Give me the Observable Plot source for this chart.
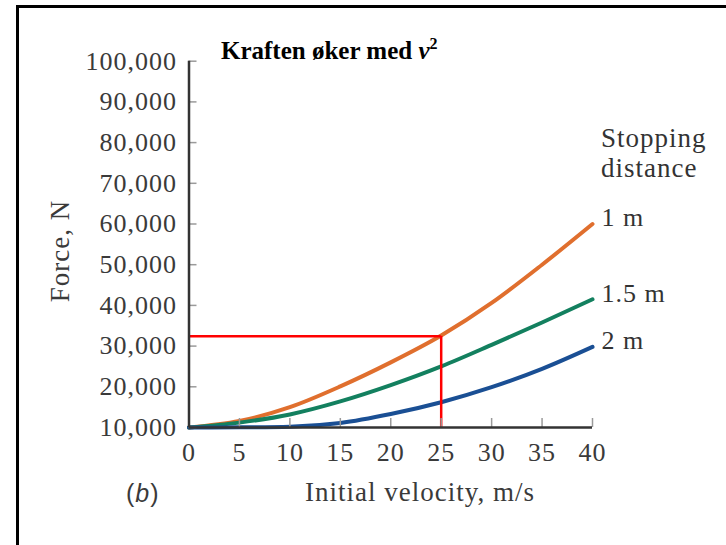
<!DOCTYPE html>
<html>
<head>
<meta charset="utf-8">
<script src="https://cdn.jsdelivr.net/npm/d3@7"></script>
<script src="https://cdn.jsdelivr.net/npm/@observablehq/plot@0.6"></script>
<style>
  html, body { margin: 0; padding: 0; background: #fff; }
  #wrap { position: relative; width: 726px; height: 545px; overflow: hidden; }
  #frame { position: absolute; left: 16px; top: 5px; width: 800px; height: 700px; border: 3px solid #000; box-sizing: border-box; pointer-events: none; }
  #chart svg text { letter-spacing: 1px; }
  #chart svg text.title { letter-spacing: 0; }
</style>
</head>
<body>
<div id="wrap"><div id="chart"></div><div id="frame"></div></div>
<script>
// ---- data ----
const velocity = [0, 5, 10, 15, 20, 25, 30, 35, 40];               // m/s
const force1m   = [10000, 11600, 15000, 20100, 26000, 32600, 40600, 50000, 60000];
const force15m  = [10000, 11200, 13200, 16400, 20400, 25000, 30300, 35800, 41500];
const force2m   = [10000, 10050, 10200, 11100, 13300, 16200, 19900, 24400, 29800];
const seriesNames  = ["1 m", "1.5 m", "2 m"];
const seriesColors = ["#e06f2e", "#13805f", "#1a4f94"];
const xTicks = [0, 5, 10, 15, 20, 25, 30, 35, 40];
const yTicks = [10000, 20000, 30000, 40000, 50000, 60000, 70000, 80000, 90000, 100000];
const readVelocity = [25];
const readForce = [32400];

// ---- tables built from the arrays ----
const seriesValues = [force1m, force15m, force2m];
const rows = seriesNames.flatMap((s, i) => velocity.map((v, j) => ({v, F: seriesValues[i][j], s})));
const ends = seriesNames.map((s, i) => ({v: velocity[velocity.length - 1], F: seriesValues[i][velocity.length - 1], s}));
const readings = readVelocity.map((v, i) => ({v, F: readForce[i]}));

const fmt = d3.format(",");
const serif = "'Liberation Serif', 'Times New Roman', serif";

const plot = Plot.plot({
  width: 726,
  height: 545,
  marginLeft: 188.5,
  marginRight: 134,
  marginTop: 60.7,
  marginBottom: 118,
  style: {fontFamily: serif, fontSize: "26px", background: "transparent", color: "#333"},
  x: {domain: [0, 40]},
  y: {domain: [10000, 100000]},
  color: {domain: seriesNames, range: seriesColors},
  marks: [
    Plot.line(rows, {x: "v", y: "F", z: "s", stroke: "s", strokeWidth: 4, curve: "monotone-x"}),
    Plot.ruleY(readings, {y: "F", x1: 0, x2: "v", stroke: "#ff0000", strokeWidth: 2.5}),
    Plot.ruleX(readings, {x: "v", y1: 10000, y2: "F", stroke: "#ff0000", strokeWidth: 2.5}),
    Plot.axisY({ticks: yTicks, tickFormat: fmt, tickSize: -8, tickPadding: 20, label: null,
      stroke: "#9a9a9a", strokeWidth: 1.5, fill: "#3a3a3a", fontSize: 26}),
    Plot.axisX({ticks: xTicks, tickFormat: d => String(d), tickSize: -9, tickPadding: 24, label: null,
      stroke: "#9a9a9a", strokeWidth: 1.5, fill: "#3a3a3a", fontSize: 26}),
    Plot.ruleX([0], {stroke: "#333", strokeWidth: 2.5}),
    Plot.ruleY([10000], {stroke: "#333", strokeWidth: 2.5}),
    Plot.text(ends, {x: "v", y: "F", text: "s", textAnchor: "start", dx: 9, dy: -6, fontSize: 26, fill: "#333"})
  ]
});
document.getElementById("chart").appendChild(plot);

const svg = d3.select(plot);
// title
const t = svg.append("text").attr("class", "title")
  .attr("x", 221).attr("y", 59).attr("text-anchor", "start")
  .attr("font-family", serif).attr("font-weight", "bold").attr("font-size", 25).attr("fill", "#000");
t.append("tspan").text("Kraften øker med ");
t.append("tspan").attr("font-style", "italic").text("v");
t.append("tspan").attr("font-size", 16).attr("dy", -10).text("2");
// legend heading
const h = svg.append("text").attr("text-anchor", "start").attr("font-family", serif).attr("font-size", 27).attr("fill", "#333");
h.append("tspan").attr("x", 601).attr("y", 146.5).text("Stopping");
h.append("tspan").attr("x", 601).attr("y", 177).text("distance");
// axis titles
svg.append("text").attr("transform", "translate(69,251) rotate(-90)").attr("text-anchor", "middle")
  .attr("font-family", serif).attr("font-size", 27).attr("fill", "#3a3a3a").text("Force, N");
svg.append("text").attr("x", 420).attr("y", 501).attr("text-anchor", "middle")
  .attr("font-family", serif).attr("font-size", 27).attr("fill", "#3a3a3a").text("Initial velocity, m/s");
const b = svg.append("text").attr("x", 126).attr("y", 502).attr("text-anchor", "start")
  .attr("font-family", "'Liberation Sans', Arial, sans-serif").attr("font-size", 25).attr("fill", "#3a3a3a");
b.append("tspan").text("(");
b.append("tspan").attr("font-style", "italic").text("b");
b.append("tspan").text(")");
</script>
</body>
</html>
